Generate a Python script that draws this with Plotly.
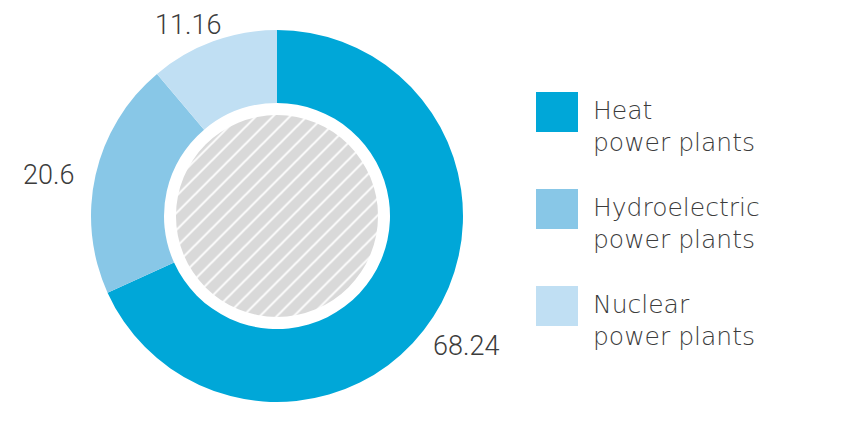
import plotly.graph_objects as go

W, H = 846, 430

categories = ["Heat", "Hydroelectric", "Nuclear"]
legend_lines = [["Heat", "power plants"], ["Hydroelectric", "power plants"], ["Nuclear", "power plants"]]
values = [68.24, 20.6, 11.16]
value_labels = ["68.24", "20.6", "11.16"]
colors = ["#00a7d8", "#88c7e7", "#c0dff3"]

# layout (pixels from top-left of the page; page body has an 8px margin)
OFF = 8
CX, CY = 277, 216
R_OUT, R_HOLE, R_IN = 186, 113, 101
label_pos = [(466, 346), (48, 175), (188, 25)]
NUM_FONT = "Roboto"
LEG_FONT = "DejaVu Sans"
TXT = "#3c3c3c"


def px(x):
    return (x - OFF) / W


def py(y):
    return 1 - (y - OFF) / H


def dom(r):
    return dict(x=[px(CX - r), px(CX + r)], y=[py(CY + r), py(CY - r)])


fig = go.Figure()
fig.add_trace(go.Pie(
    labels=categories, values=values, sort=False, direction="clockwise", rotation=0,
    hole=R_HOLE / R_OUT, domain=dom(R_OUT),
    marker=dict(colors=colors, line=dict(width=0)),
    textinfo="none", hoverinfo="label+value", showlegend=False,
))
fig.add_trace(go.Pie(
    labels=["center"], values=[1], domain=dom(R_IN),
    marker=dict(colors=["#d9d9d9"], line=dict(width=0),
                pattern=dict(shape="/", fgcolor="#ffffff", bgcolor="#d9d9d9", size=12, solidity=0.16)),
    textinfo="none", hoverinfo="skip", showlegend=False,
))

annotations = []
for (x, y), t in zip(label_pos, value_labels):
    annotations.append(dict(x=px(x), y=py(y), xref="paper", yref="paper", text=t, showarrow=False,
                            xanchor="center", yanchor="middle",
                            font=dict(family=NUM_FONT, size=27, color=TXT, weight=300)))

shapes = []
SQ_X0, SQ_X1, SQ_Y0, SQ_H, STEP = 536, 578, 92, 40, 97
TX, L1, L2 = 591, 110, 142
for i, (lines, c) in enumerate(zip(legend_lines, colors)):
    y0 = SQ_Y0 + i * STEP
    shapes.append(dict(type="rect", xref="paper", yref="paper", x0=px(SQ_X0), x1=px(SQ_X1),
                       y0=py(y0 + SQ_H), y1=py(y0), fillcolor=c, line=dict(width=0)))
    for ly, t in zip((L1, L2), lines):
        annotations.append(dict(x=px(TX), y=py(ly + i * STEP), xref="paper", yref="paper", text=t,
                                showarrow=False, xanchor="left", yanchor="middle",
                                font=dict(family=LEG_FONT, size=25, color=TXT, weight=200)))

fig.update_layout(width=W, height=H, margin=dict(l=0, r=0, t=0, b=0),
                  paper_bgcolor="white", plot_bgcolor="white",
                  annotations=annotations, shapes=shapes)
fig.write_html("out.html")
